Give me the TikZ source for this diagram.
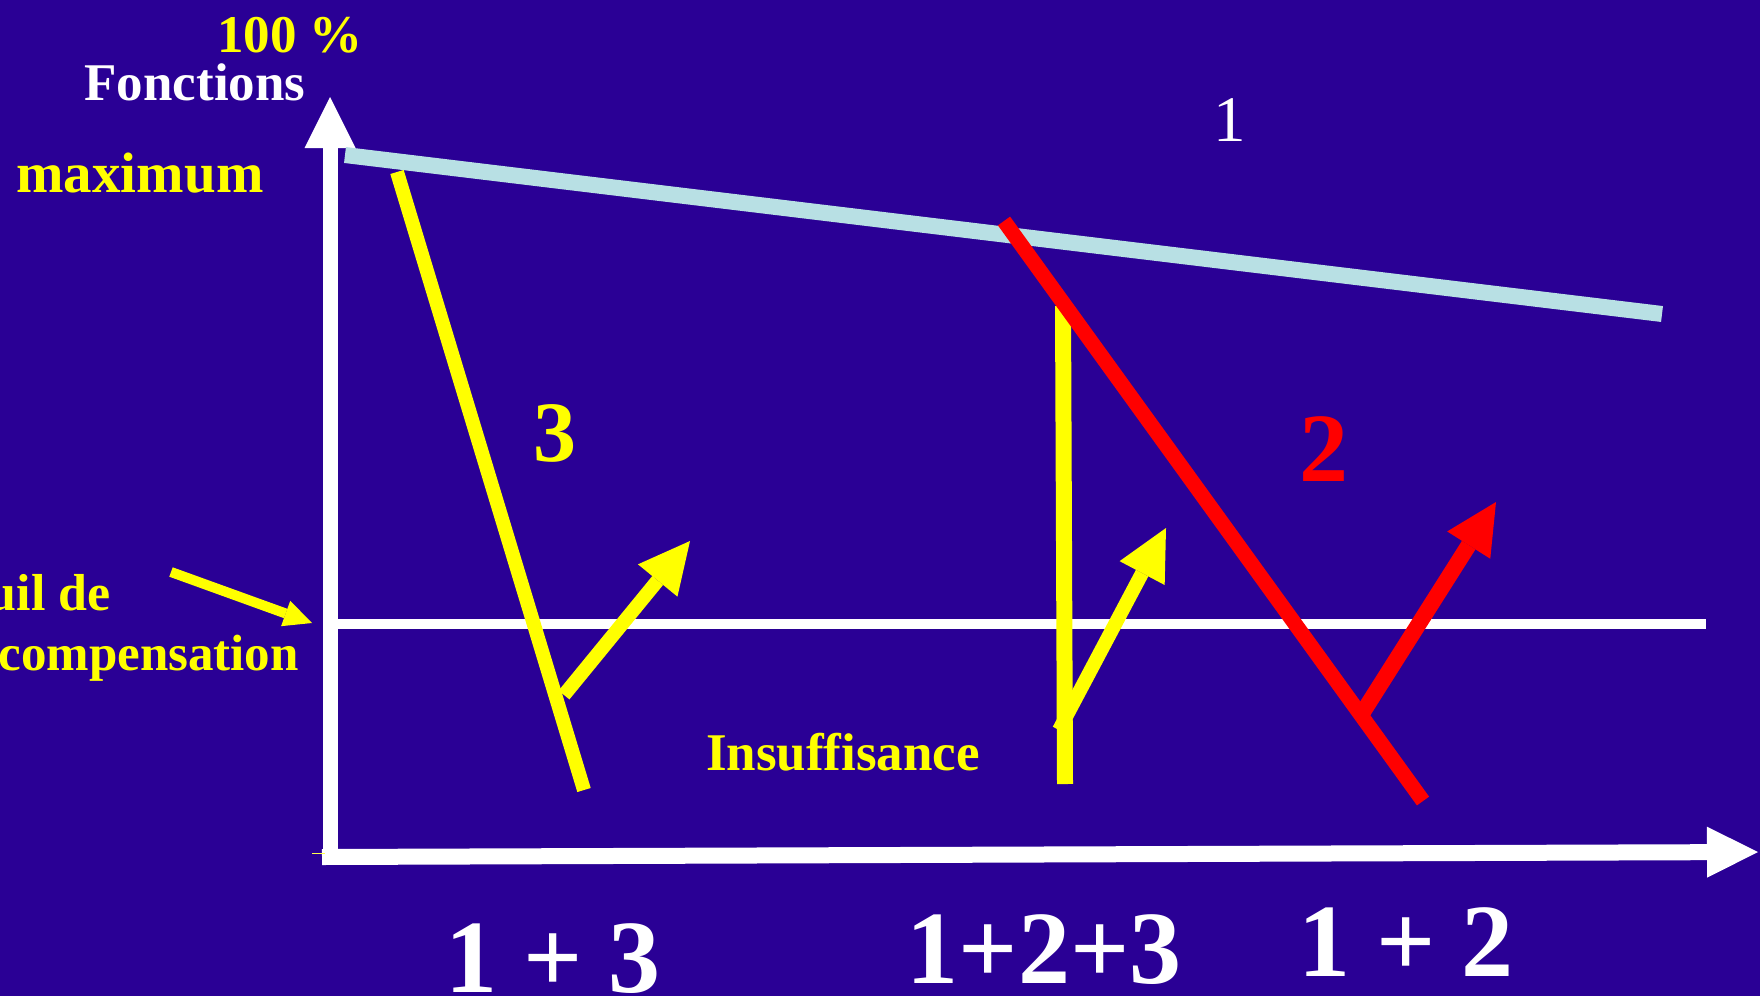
\documentclass[tikz,border=0pt]{standalone}
\usepackage{fontspec}
\setmainfont{Liberation Serif}
\usetikzlibrary{arrows.meta}
\definecolor{slidebg}{HTML}{2A0095}
\definecolor{normline}{HTML}{B8E0E4}
\definecolor{curveyel}{HTML}{FFFF00}
\definecolor{curvered}{HTML}{FF0000}

\begin{document}
\begin{tikzpicture}[x=1pt,y=-1pt,
    bigtip/.style={-{Triangle[length=51pt,width=51pt,line width=0pt]}},
    smalltip/.style={-{Triangle[length=28pt,width=27pt,line width=0pt]}},
    lbl/.style={inner sep=0pt,anchor=base,font=\bfseries\fontsize{#1}{#1}\selectfont}]
  \fill[slidebg] (0,0) rectangle (1760,996);
  \useasboundingbox (0,0) rectangle (1760,996);
  \clip (0,0) rectangle (1760,996);

  % axes and threshold
  \coordinate (orig) at (330,865);
  \coordinate (ytip) at (330,97);
  \coordinate (xstart) at (322,857);
  \coordinate (xtip) at (1758,852);
  \coordinate (seuilL) at (337,624);
  \coordinate (seuilR) at (1706,624);
  \draw[white,line width=10pt] (seuilL) -- (seuilR);
  \draw[white,line width=15pt,bigtip] (orig) -- (ytip);
  \draw[white,line width=16pt,bigtip] (xstart) -- (xtip);
  \draw[curveyel!70!white,line width=1pt] (312,853) -- (325,853);

  % curve 1 (normal decline)
  \coordinate (normA) at (345,155);
  \coordinate (normB) at (1662,314);
  \draw[normline,line width=16pt] (normA) -- (normB);

  % curve 3 and its recovery
  \coordinate (c3top) at (397,172);
  \coordinate (c3bot) at (584,790);
  \coordinate (r3from) at (564,695);
  \coordinate (r3to) at (690,541);
  \draw[curveyel,line width=14pt] (c3top) -- (c3bot);
  \draw[curveyel,line width=14pt,bigtip] (r3from) -- (r3to);

  % curve 1+2+3
  \coordinate (vtop) at (1063,306);
  \coordinate (vbot) at (1065,784);
  \coordinate (r123from) at (1059,730);
  \coordinate (r123to) at (1166,528);
  \draw[curveyel,line width=16pt] (vtop) -- (vbot);
  \draw[curveyel,line width=14pt,bigtip] (r123from) -- (r123to);

  % curve 2 and its recovery
  \coordinate (c2top) at (1004,221);
  \coordinate (c2bot) at (1423,801);
  \coordinate (r2from) at (1363,712);
  \coordinate (r2to) at (1496,502);
  \draw[curvered,line width=15pt] (c2top) -- (c2bot);
  \draw[curvered,line width=16pt,bigtip] (r2from) -- (r2to);

  % pointer to the threshold
  \coordinate (ptrfrom) at (171,572);
  \coordinate (ptrto) at (312,623);
  \draw[curveyel,line width=10pt,smalltip] (ptrfrom) -- (ptrto);

  % labels
  \node[lbl=53,curveyel] (cent) at (290,52) {100 \%};
  \node[lbl=53,white] (fonct) at (195,100) {Fonctions};
  \node[lbl=57,curveyel] (maxi) at (140,192) {maximum};
  \node[lbl=52,curveyel,anchor=base east] (seuil) at (111,610) {Seuil de};
  \node[lbl=51,curveyel,anchor=base east] (compens) at (299,670) {compensation};
  \node[inner sep=0pt,anchor=base,white,font=\fontsize{65}{65}\selectfont] (lab1) at (1230,141) {1};
  \node[lbl=86,curveyel] (lab3) at (555,461) {3};
  \node[lbl=98,curvered] (lab2) at (1324,481) {2};
  \node[lbl=53,curveyel] (insuf) at (843,770) {Insuffisance};
  \node[lbl=104,white] (sum13) at (553,992) {1 + 3};
  \node[lbl=104,white] (sum123) at (1044,983) {1+2+3};
  \node[lbl=104,white] (sum12) at (1406,976) {1 + 2};
\end{tikzpicture}
\end{document}
